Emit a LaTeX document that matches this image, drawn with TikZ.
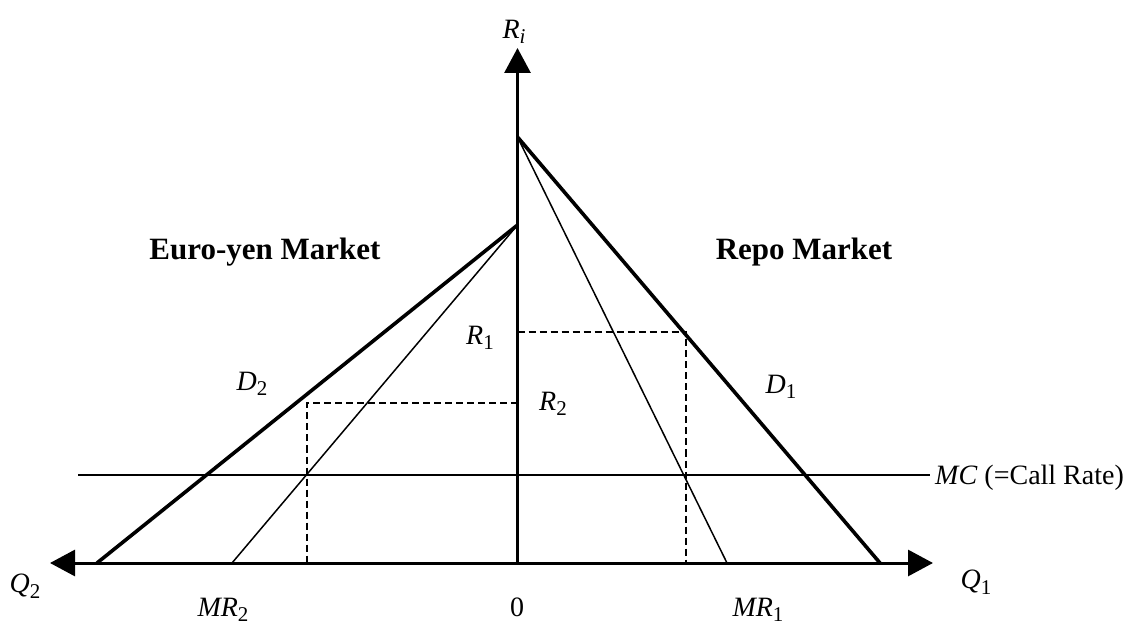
\documentclass[tikz,border=0pt]{standalone}
\usepackage{fontspec}
\setmainfont{Liberation Serif}
\usetikzlibrary{arrows.meta}
\newcommand{\sbs}[1]{\raisebox{-0.2em}{\fontsize{21}{21}\selectfont #1}}
\tikzset{
  axisline/.style={line width=3pt},
  demand/.style={line width=3.6pt},
  mrline/.style={line width=1.5pt},
  mcline/.style={line width=2.8pt},
  dashline/.style={line width=1.4pt, dash pattern=on 7pt off 4pt},
  tip/.style={-{Triangle[width=26pt,length=25pt]}},
  lbl/.style={inner sep=0pt, font=\fontsize{28}{30}\selectfont},
  mkt/.style={inner sep=0pt, anchor=base, font=\fontsize{31}{33}\selectfont\bfseries}
}
\begin{document}
\begin{tikzpicture}[x=1pt,y=-1pt]
\useasboundingbox (0,0) rectangle (1128,628);
% coordinates
\coordinate (O) at (517.5,563);
\coordinate (top) at (517.5,48);
\coordinate (left) at (50,563);
\coordinate (right) at (933,563);
\coordinate (D1top) at (517.5,137);
\coordinate (D1end) at (880,563);
\coordinate (MR1end) at (727,563);
\coordinate (D2top) at (517.5,225);
\coordinate (D2end) at (97,563);
\coordinate (MR2end) at (232,563);
\coordinate (MCl) at (78,475);
\coordinate (MCr) at (930,475);
\coordinate (R1a) at (517.5,332);
\coordinate (R1c) at (686,332);
\coordinate (R1b) at (686,563);
\coordinate (R2a) at (517.5,403);
\coordinate (R2c) at (307,403);
\coordinate (R2b) at (307,563);
% axes
\draw[axisline,tip] (O) -- (top);
\draw[axisline,tip] (O) -- (right);
\draw[axisline,tip] (O) -- (left);
% MC
\draw[mcline] (MCl) -- (MCr);
% demand and MR
\draw[demand,line join=round] (D1top) -- (D1end);
\draw[mrline] (D1top) -- (MR1end);
\draw[demand,line join=round] (D2top) -- (D2end);
\draw[mrline] (D2top) -- (MR2end);
% dashed
\draw[dashline] (R1a) -- (R1c) -- (R1b);
\draw[dashline] (R2a) -- (R2c) -- (R2b);
% labels
\node[lbl] (Ri) at (514,32) {\textit{R}\sbs{\textit{i}}};
\node[mkt] (euro) at (265,260) {Euro-yen Market};
\node[mkt] (repo) at (804,260) {Repo Market};
\node[lbl] (R1) at (480,338) {\textit{R}\sbs{1}};
\node[lbl] (R2) at (553,404) {\textit{R}\sbs{2}};
\node[lbl] (D2) at (252,384) {\textit{D}\sbs{2}};
\node[lbl] (D1) at (781,387) {\textit{D}\sbs{1}};
\node[lbl,anchor=west] (MC) at (935,478) {\textit{MC} (=Call Rate)};
\node[lbl] (Q2) at (25,586) {\textit{Q}\sbs{2}};
\node[lbl] (Q1) at (976,582) {\textit{Q}\sbs{1}};
\node[lbl] (MR2) at (223,610) {\textit{MR}\sbs{2}};
\node[lbl] (zero) at (517,607) {0};
\node[lbl] (MR1) at (758,610) {\textit{MR}\sbs{1}};
\end{tikzpicture}
\end{document}
